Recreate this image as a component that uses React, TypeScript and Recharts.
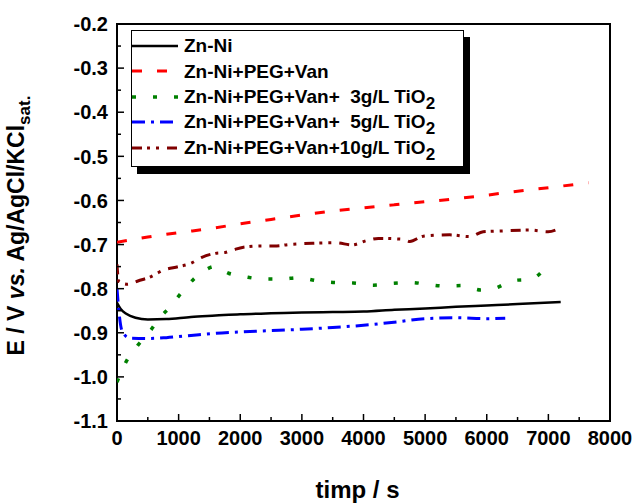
import { LineChart, Line, XAxis, YAxis, ReferenceArea } from "recharts";

const FONT = "Arial, 'Liberation Sans', sans-serif";

// potential vs. time
const tZnNi = [0, 60, 150, 300, 500, 800, 1200, 1600, 2000, 2500, 3000, 3500, 4000, 4500, 5000, 5500, 6000, 6500, 7200];
const eZnNi = [-0.832, -0.846, -0.857, -0.866, -0.87, -0.869, -0.864, -0.861, -0.858, -0.856, -0.854, -0.853, -0.852, -0.848, -0.845, -0.841, -0.838, -0.835, -0.83];

const tPeg = [0, 500, 1000, 1500, 2000, 2500, 3000, 3500, 4000, 4500, 5000, 5500, 6000, 6500, 7000, 7650];
const ePeg = [-0.695, -0.683, -0.673, -0.664, -0.653, -0.643, -0.633, -0.624, -0.617, -0.61, -0.603, -0.596, -0.588, -0.579, -0.571, -0.56];

const tTi3 = [0, 135, 334, 528, 700, 864, 1070, 1240, 1430, 1580, 1810, 2080, 2360, 2675, 2945, 3240, 3540, 3835, 4160, 4457, 4780, 5025, 5310, 5607, 5900, 6130, 6418, 6726, 6985];
const eTi3 = [-1.012, -0.969, -0.929, -0.898, -0.865, -0.841, -0.805, -0.779, -0.758, -0.75, -0.765, -0.773, -0.778, -0.778, -0.775, -0.782, -0.786, -0.787, -0.792, -0.788, -0.786, -0.79, -0.794, -0.793, -0.803, -0.799, -0.782, -0.778, -0.747];

const tTi5 = [0, 30, 80, 200, 500, 800, 1200, 1600, 2000, 2500, 3000, 3500, 4000, 4500, 5000, 5500, 6000, 6300];
const eTi5 = [-0.8, -0.85, -0.895, -0.912, -0.913, -0.911, -0.906, -0.901, -0.898, -0.895, -0.892, -0.888, -0.883, -0.876, -0.868, -0.866, -0.868, -0.867];

const tTi10 = [0, 10, 25, 162, 350, 528, 756, 1000, 1190, 1377, 1593, 1755, 1890, 2052, 2350, 2593, 2782, 3187, 3565, 3808, 4052, 4240, 4645, 4753, 4970, 5400, 5726, 5942, 6266, 6698, 6995, 7157];
const eTi10 = [-0.745, -0.765, -0.783, -0.79, -0.782, -0.774, -0.758, -0.75, -0.743, -0.729, -0.72, -0.718, -0.712, -0.706, -0.703, -0.703, -0.7, -0.697, -0.696, -0.701, -0.691, -0.686, -0.688, -0.693, -0.681, -0.678, -0.682, -0.671, -0.669, -0.667, -0.671, -0.665];

const xTicks = [0, 500, 1000, 1500, 2000, 2500, 3000, 3500, 4000, 4500, 5000, 5500, 6000, 6500, 7000, 7500, 8000];
const yTicks = [-1.1, -1.05, -1.0, -0.95, -0.9, -0.85, -0.8, -0.75, -0.7, -0.65, -0.6, -0.55, -0.5, -0.45, -0.4, -0.35, -0.3, -0.25, -0.2];

const zip = (t: number[], e: number[]) => t.map((v, i) => ({ t: v, e: e[i] }));

const series = [
  { name: "Zn-Ni", sub: "", data: zip(tZnNi, eZnNi), color: "#000000", dash: undefined, width: 2.5 },
  { name: "Zn-Ni+PEG+Van", sub: "", data: zip(tPeg, ePeg), color: "#ff0000", dash: "10 15", width: 3 },
  { name: "Zn-Ni+PEG+Van+  3g/L TiO", sub: "2", data: zip(tTi3, eTi3), color: "#008000", dash: "4 17", width: 3.5 },
  { name: "Zn-Ni+PEG+Van+  5g/L TiO", sub: "2", data: zip(tTi5, eTi5), color: "#0000ff", dash: "13 6 3 6", width: 3 },
  { name: "Zn-Ni+PEG+Van+10g/L TiO", sub: "2", data: zip(tTi10, eTi10), color: "#800000", dash: "10 5 3 6 3 8", width: 3 },
];

function XTick({ x, y, payload }: any) {
  const major = payload.value % 1000 === 0;
  return (
    <g>
      <line x1={x} x2={x} y1={y} y2={y - (major ? 7 : 4)} stroke="#000" strokeWidth={1.5} />
      {major && (
        <text x={x} y={y + 24} textAnchor="middle" fontFamily={FONT} fontWeight="bold" fontSize={20} fill="#000">
          {payload.value}
        </text>
      )}
    </g>
  );
}

function YTick({ x, y, payload }: any) {
  const major = Math.abs(Math.round(payload.value * 10) - payload.value * 10) < 1e-6;
  return (
    <g>
      <line x1={x} x2={x + (major ? 7 : 4)} y1={y} y2={y} stroke="#000" strokeWidth={1.5} />
      {major && (
        <text x={x - 9} y={y} dy="0.36em" textAnchor="end" fontFamily={FONT} fontWeight="bold" fontSize={20} fill="#000">
          {payload.value.toFixed(1)}
        </text>
      )}
    </g>
  );
}

function YTitle({ viewBox }: any) {
  const cy = (viewBox?.y ?? 24) + (viewBox?.height ?? 397) / 2 + 3;
  const bx = (viewBox?.x ?? 0) + 24;
  return (
    <text transform={`rotate(-90 ${bx} ${cy})`} x={bx} y={cy} textAnchor="middle" fontFamily={FONT} fontWeight="bold" fontSize={23} fill="#000">
      E / V <tspan fontStyle="italic">vs.</tspan> Ag/AgCl/KCl
      <tspan fontSize={17} dy={6}>sat.</tspan>
    </text>
  );
}

function XTitle({ viewBox }: any) {
  const cx = (viewBox?.x ?? 117) + (viewBox?.width ?? 493) / 2 - 6;
  const by = (viewBox?.y ?? 421) + 77;
  return (
    <text x={cx} y={by} textAnchor="middle" fontFamily={FONT} fontWeight="bold" fontSize={24} fill="#000">
      timp / s
    </text>
  );
}

function LegendBox() {
  return (
    <div
      style={{
        position: "absolute",
        left: 131,
        top: 30,
        width: 331,
        height: 135,
        border: "1px solid #000",
        boxShadow: "6px 7px 0 #000",
        background: "#fff",
        fontFamily: FONT,
        fontWeight: "bold",
        fontSize: 19,
        color: "#000",
      }}
    >
      {series.map((s, i) => (
        <div key={s.name} style={{ position: "absolute", left: 0, top: 2 + i * 25.6, height: 25, display: "flex", alignItems: "center", whiteSpace: "pre" }}>
          <svg width={46} height={10} style={{ display: "block" }}>
            <line x1={0} x2={46} y1={5} y2={5} stroke={s.color} strokeWidth={s.width} strokeDasharray={s.dash} />
          </svg>
          <span style={{ marginLeft: 6, lineHeight: "25px" }}>
            {s.name}
            {s.sub && <span style={{ fontSize: 17, position: "relative", top: 6 }}>{s.sub}</span>}
          </span>
        </div>
      ))}
    </div>
  );
}

export default function App() {
  return (
    <div style={{ position: "absolute", left: 0, top: 0, width: 636, height: 503, background: "#fff" }}>
      <LineChart width={636} height={503} margin={{ top: 24, right: 26, bottom: 0, left: 0 }}>
        <XAxis
          type="number"
          dataKey="t"
          domain={[0, 8000]}
          ticks={xTicks}
          interval={0}
          height={82}
          tickSize={0}
          tickMargin={0}
          tickLine={false}
          axisLine={false}
          tick={<XTick />}
          label={<XTitle />}
          allowDataOverflow
        />
        <YAxis
          type="number"
          dataKey="e"
          domain={[-1.1, -0.2]}
          ticks={yTicks}
          interval={0}
          width={117}
          tickSize={0}
          tickMargin={0}
          tickLine={false}
          axisLine={false}
          tick={<YTick />}
          label={<YTitle />}
          allowDataOverflow
        />
        {series.map((s) => (
          <Line
            key={s.name}
            data={s.data}
            dataKey="e"
            type="monotone"
            stroke={s.color}
            strokeWidth={s.width}
            strokeDasharray={s.dash}
            dot={false}
            activeDot={false}
            isAnimationActive={false}
          />
        ))}
        <ReferenceArea x1={0} x2={8000} y1={-1.1} y2={-0.2} fill="none" stroke="#000" strokeWidth={2} ifOverflow="visible" />
      </LineChart>
      <LegendBox />
    </div>
  );
}
